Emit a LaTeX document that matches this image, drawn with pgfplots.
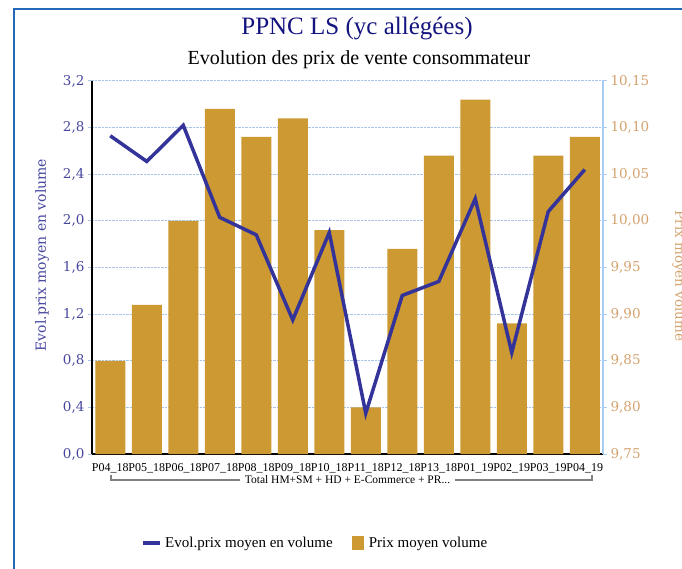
\documentclass[border=0pt]{standalone}
\usepackage{fontspec}
\setmainfont{Liberation Serif}
\newfontfamily\dvs{DejaVu Serif}
\usepackage{pgfplots}
\pgfplotsset{compat=1.18}
\definecolor{barcol}{HTML}{CC9933}
\definecolor{linecol}{HTML}{333399}
\definecolor{titlecol}{HTML}{14147F}
\definecolor{lefttick}{HTML}{4646A0}
\definecolor{righttick}{HTML}{D4A26E}
\definecolor{gridcol}{HTML}{A8C4E8}
\definecolor{raxis}{HTML}{A8CCF0}
\definecolor{framecol}{HTML}{2468B8}
\begin{document}
\begin{tikzpicture}[x=1pt,y=1pt]
\path[use as bounding box] (0,0) rectangle (682,568);
\begin{scope}
\clip (0,0) rectangle (682,568);
\draw[framecol, line width=2pt] (14,-5) -- (14,559) -- (690,559);
\node[anchor=base, font=\fontsize{25}{28}\selectfont, text=titlecol] at (357,533) {PPNC LS (yc allégées)};
\node[anchor=base, font=\fontsize{20}{23}\selectfont] at (359,503) {Evolution des prix de vente consommateur};
% bars (right axis)
\begin{axis}[
  at={(92pt,114pt)}, anchor=south west, scale only axis,
  width=511pt, height=373pt,
  xmin=-0.5, xmax=13.5, ymin=9.75, ymax=10.15,
  axis y line*=right, axis x line*=bottom,
  xtick={0,...,13},
  xticklabels={P04\_18,P05\_18,P06\_18,P07\_18,P08\_18,P09\_18,P10\_18,P11\_18,P12\_18,P13\_18,P01\_19,P02\_19,P03\_19,P04\_19},
  xticklabel style={font=\fontsize{12}{13}\selectfont, yshift=-2pt},
  x axis line style={black, line width=1.2pt, -},
  y axis line style={raxis, line width=1.2pt, -},
  xtick style={draw=none},
  ytick style={raxis, line width=1pt},
  tick align=outside, major tick length=4pt,
  ytick={9.75,9.80,9.85,9.90,9.95,10.00,10.05,10.10,10.15},
  yticklabel style={font=\dvs\fontsize{13.5}{15}\selectfont, text=righttick,
    /pgf/number format/.cd, use comma, fixed, fixed zerofill, precision=2, assume math mode=true},
  ymajorgrids, grid style={gridcol, densely dotted, line width=1pt},
]
\addplot[ybar, bar width=30pt, bar shift=0pt, fill=barcol, draw=none] coordinates {
 (0,9.85) (1,9.91) (2,10.00) (3,10.12) (4,10.09) (5,10.11) (6,9.99)
 (7,9.80) (8,9.97) (9,10.07) (10,10.13) (11,9.89) (12,10.07) (13,10.09)};
\end{axis}
% line (left axis)
\begin{axis}[
  at={(92pt,114pt)}, anchor=south west, scale only axis,
  width=511pt, height=373pt,
  xmin=-0.5, xmax=13.5, ymin=0, ymax=3.2,
  axis y line*=left, axis x line=none,
  y axis line style={black, line width=1.2pt, -},
  ytick style={gridcol, line width=1pt},
  tick align=outside, major tick length=4pt,
  ytick={0,0.4,0.8,1.2,1.6,2.0,2.4,2.8,3.2},
  yticklabel style={font=\dvs\fontsize{13.5}{15}\selectfont, text=lefttick,
    /pgf/number format/.cd, use comma, fixed, fixed zerofill, precision=1, assume math mode=true},
  legend style={at={(0.437,-0.2386)}, anchor=center, draw=none, fill=none,
    font=\fontsize{15}{17}\selectfont, /tikz/every even column/.append style={column sep=17pt}},
  legend columns=2,
]
\addplot[linecol, line width=3.5pt, mark=none,
  legend image code/.code={\draw[linecol, line width=3.5pt] (0pt,0pt) -- (17pt,0pt); \path[draw=none,fill=none] (0pt,0pt) -- (20pt,0pt);}] coordinates {
 (0,2.73) (1,2.51) (2,2.82) (3,2.03) (4,1.88) (5,1.15) (6,1.90)
 (7,0.35) (8,1.36) (9,1.48) (10,2.19) (11,0.87) (12,2.08) (13,2.44)};
\addlegendimage{legend image code/.code={\fill[barcol] (0pt,-6pt) rectangle (11pt,7pt); \path[draw=none,fill=none] (0pt,0pt) -- (15pt,0pt);}}
\legend{Evol.prix moyen en volume, Prix moyen volume}
\end{axis}
\node[rotate=90, font=\dvs\fontsize{14}{16}\selectfont, text=lefttick] at (42,313) {Evol.prix moyen en volume};
\node[rotate=-90, font=\dvs\fontsize{13.5}{15}\selectfont, text=righttick] at (679,292) {Prix moyen volume};
\draw[gray, line width=1.3pt] (111,93) -- (111,88) -- (240,88);
\draw[gray, line width=1.3pt] (455,88) -- (592,88) -- (592,93);
\node[anchor=base, font=\fontsize{11.5}{12}\selectfont] at (347.5,85) {Total HM+SM + HD + E-Commerce + PR...};
\end{scope}
\end{tikzpicture}
\end{document}
